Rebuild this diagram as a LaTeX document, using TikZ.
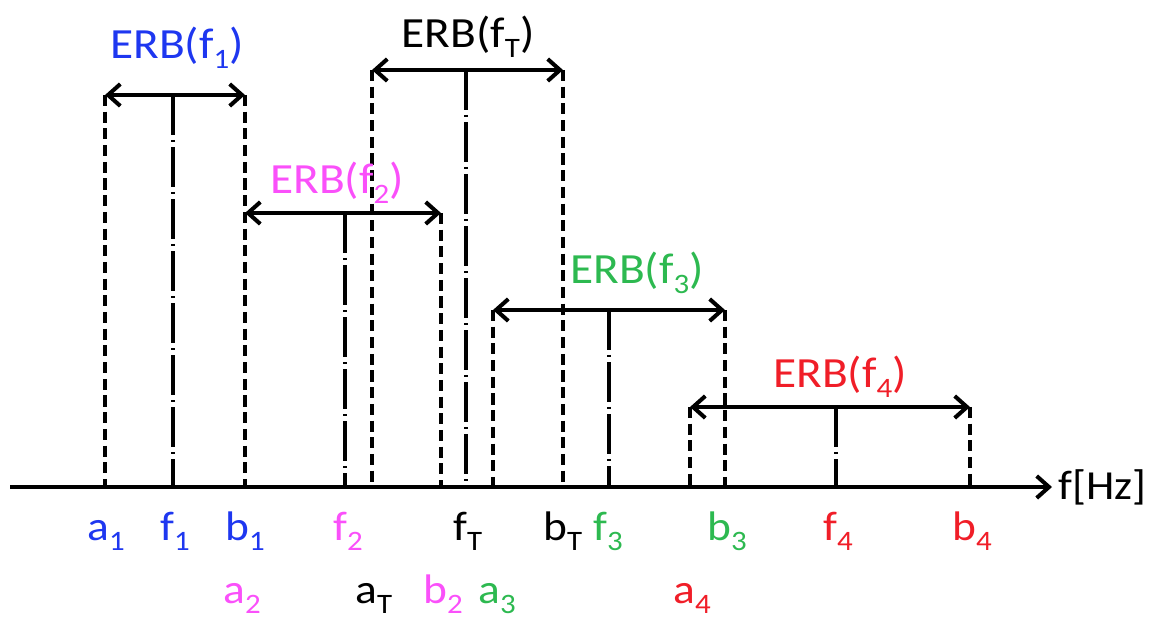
\documentclass[tikz,border=0pt]{standalone}
\usepackage{fontspec}
\setmainfont{Carlito}[FakeStretch=1.1]
\usetikzlibrary{arrows.meta}
\definecolor{cblue}{RGB}{30,55,240}
\definecolor{cmag}{RGB}{250,80,250}
\definecolor{cgreen}{RGB}{45,185,80}
\definecolor{cred}{RGB}{240,30,40}
\tikzset{
  dline/.style={line width=2pt, dash pattern=on 6.3pt off 3.2pt},
  cline/.style={line width=2pt, dash pattern=on 23pt off 2.6pt on 1.4pt off 2.6pt},
  erb/.style={line width=2.3pt, {Straight Barb[length=7pt,width=12.5pt,line width=2.3pt]}-{Straight Barb[length=7pt,width=12.5pt,line width=2.3pt]}},
  axis/.style={line width=2.3pt, -{Straight Barb[length=7pt,width=12.5pt,line width=2.3pt]}},
  lbl/.style={inner sep=0pt, anchor=base west, font=\fontsize{23.5}{27}\selectfont},
  lblc/.style={inner sep=0pt, anchor=base, font=\fontsize{24.5}{28}\selectfont}
}
\newcommand{\sbs}[1]{\raisebox{-6pt}{\fontsize{16}{16}\selectfont #1}}
\begin{document}
\begin{tikzpicture}[x=0.02cm,y=-0.02cm]
\useasboundingbox (0,0) rectangle (1163,620);
% axis
\coordinate (ax0) at (10,487);
\coordinate (ax1) at (1052,487);
\draw[axis] (ax0) -- (ax1);
\node[lbl] (hz) at (1058,499) {f[Hz]};
% ERB f1
\coordinate (a1t) at (105,95); \coordinate (a1b) at (105,487);
\coordinate (f1t) at (173,95); \coordinate (f1b) at (173,487);
\coordinate (b1t) at (245,95); \coordinate (b1b) at (245,487);
\draw[dline] (a1t) -- (a1b);
\draw[cline] (f1t) -- (f1b);
\draw[dline] (b1t) -- (b1b);
\draw[erb] (a1t) -- (b1t);
\node[lblc, text=cblue] (erb1) at (177,58) {ERB(f\sbs{1})};
% ERB fT
\coordinate (aTt) at (372,70); \coordinate (aTb) at (372,487);
\coordinate (fTt) at (466,70); \coordinate (fTb) at (466,487);
\coordinate (bTt) at (563,70); \coordinate (bTb) at (563,487);
\draw[dline] (aTt) -- (aTb);
\draw[cline] (fTt) -- (fTb);
\draw[dline] (bTt) -- (bTb);
\draw[erb] (aTt) -- (bTt);
\node[lblc] (erbT) at (468,47) {ERB(f\sbs{T})};
% ERB f2
\coordinate (a2t) at (245,213);
\coordinate (f2t) at (345,213); \coordinate (f2b) at (345,487);
\coordinate (b2t) at (441,213); \coordinate (b2b) at (441,487);
\draw[cline] (f2t) -- (f2b);
\draw[dline] (b2t) -- (b2b);
\draw[erb] (a2t) -- (b2t);
\node[lblc, text=cmag] (erb2) at (337,193) {ERB(f\sbs{2})};
% ERB f3
\coordinate (a3t) at (493,310); \coordinate (a3b) at (493,487);
\coordinate (f3t) at (609,310); \coordinate (f3b) at (609,487);
\coordinate (b3t) at (725,310); \coordinate (b3b) at (725,487);
\draw[dline] (a3t) -- (a3b);
\draw[cline] (f3t) -- (f3b);
\draw[dline] (b3t) -- (b3b);
\draw[erb] (a3t) -- (b3t);
\node[lblc, text=cgreen] (erb3) at (637,283) {ERB(f\sbs{3})};
% ERB f4
\coordinate (a4t) at (690,407); \coordinate (a4b) at (690,487);
\coordinate (f4t) at (836,407); \coordinate (f4b) at (836,487);
\coordinate (b4t) at (970,407); \coordinate (b4b) at (970,487);
\draw[dline] (a4t) -- (a4b);
\draw[cline] (f4t) -- (f4b);
\draw[dline] (b4t) -- (b4b);
\draw[erb] (a4t) -- (b4t);
\node[lblc, text=cred] (erb4) at (840,387) {ERB(f\sbs{4})};
% bottom labels row 1
\node[lbl, text=cblue] (la1) at (87,540) {a\sbs{1}};
\node[lbl, text=cblue] (lf1) at (160,540) {f\sbs{1}};
\node[lbl, text=cblue] (lb1) at (225,540) {b\sbs{1}};
\node[lbl, text=cmag] (lf2) at (333,540) {f\sbs{2}};
\node[lbl] (lfT) at (453,540) {f\sbs{T}};
\node[lbl] (lbT) at (543,540) {b\sbs{T}};
\node[lbl, text=cgreen] (lf3) at (593,540) {f\sbs{3}};
\node[lbl, text=cgreen] (lb3) at (707,540) {b\sbs{3}};
\node[lbl, text=cred] (lf4) at (823,540) {f\sbs{4}};
\node[lbl, text=cred] (lb4) at (952,540) {b\sbs{4}};
% bottom labels row 2
\node[lbl, text=cmag] (la2) at (223,603) {a\sbs{2}};
\node[lbl] (laT) at (355,603) {a\sbs{T}};
\node[lbl, text=cmag] (lb2) at (423,603) {b\sbs{2}};
\node[lbl, text=cgreen] (la3) at (478,603) {a\sbs{3}};
\node[lbl, text=cred] (la4) at (673,603) {a\sbs{4}};
\end{tikzpicture}
\end{document}
